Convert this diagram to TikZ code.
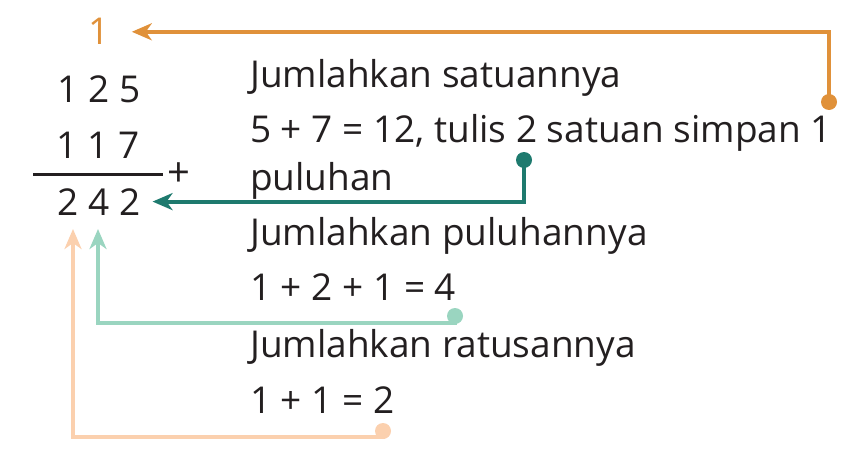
\documentclass[tikz,border=0pt]{standalone}
\usepackage{fontspec}
\setmainfont{Open Sans}
\usetikzlibrary{arrows.meta}
\definecolor{txtgray}{HTML}{231F20}
\definecolor{carryorange}{HTML}{E0913A}
\definecolor{onesgreen}{HTML}{1E7A6E}
\definecolor{tensgreen}{HTML}{9AD5C0}
\definecolor{hundpeach}{HTML}{FBD0AE}
\begin{document}
\begin{tikzpicture}[x=1pt,y=-1pt,
  every node/.style={inner sep=0pt,text=txtgray,font=\fontsize{37}{44}\selectfont},
  txt/.style={anchor=base west},
  num/.style={anchor=base},
  link/.style={line width=4pt,-{Stealth[length=20pt,width=17pt,inset=6pt]}},
  dot/.style={circle,fill,minimum size=16pt}]
\useasboundingbox (0,0) rectangle (859,452);
% addition column
\node[num,text=carryorange] (carry) at (99,45) {1};
\node[num] (top) at (99,102) {1 2 5};
\node[num] (mid) at (98,158) {1 1 7};
\draw[txtgray,line width=3pt] (33,174) -- (163,174);
\node[font=\fontsize{40}{44}\selectfont] (plus) at (179,175) {+};
\node[num] (sum) at (99,215) {2 4 2};
\coordinate (tens) at (98,229);
\coordinate (hund) at (73,229);
% explanations
\node[txt] (ones) at (250,87) {Jumlahkan satuannya};
\node[txt] (onesa) at (250,142) {5 + 7 = 12, tulis 2 satuan simpan 1};
\node[txt] (onesb) at (250,190) {puluhan};
\node[txt] (tenst) at (250,245) {Jumlahkan puluhannya};
\node[txt] (tensa) at (250,300) {1 + 2 + 1 = 4};
\node[txt] (hundt) at (250,357) {Jumlahkan ratusannya};
\node[txt] (hunda) at (250,413) {1 + 1 = 2};
% dots
\node[dot,carryorange] (dotA) at (829,102) {};
\node[dot,onesgreen] (dotB) at (524,160) {};
\node[dot,tensgreen] (dotC) at (455,316) {};
\node[dot,hundpeach] (dotD) at (383,431) {};
% arrows
\draw[link,carryorange] (dotA.center) |- ([xshift=22pt]carry.east);
\draw[link,onesgreen] (dotB.center) |- ([xshift=12pt]sum.east);
\draw[link,tensgreen] (dotC.center) -- ++(0,7) -| (tens);
\draw[link,hundpeach] (dotD.center) -- ++(0,6) -| (hund);
\end{tikzpicture}
\end{document}
